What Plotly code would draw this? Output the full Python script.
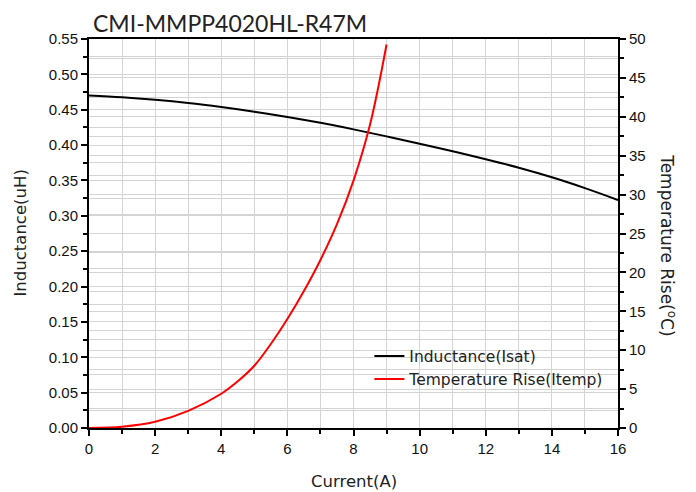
import plotly.graph_objects as go

current_L = [0, 1, 2, 3, 4, 5, 6, 7, 8, 9, 10, 11, 12, 13, 14, 15, 16]
inductance = [0.4700, 0.4675, 0.4640, 0.4595, 0.4538, 0.4472, 0.4398, 0.4315, 0.4222, 0.4123,
              0.4020, 0.3912, 0.3800, 0.3680, 0.3545, 0.3392, 0.3224]

current_T = [0, 1, 2, 3, 4, 4.5, 5, 5.5, 6, 6.5, 7, 7.5, 8, 8.5, 9]
temp_rise = [0, 0.17, 0.8, 2.2, 4.4, 6.0, 8.0, 10.8, 14.0, 17.6, 21.6, 26.2, 31.8, 39.0, 49.3]

x_ticks = [0, 2, 4, 6, 8, 10, 12, 14, 16]

title_font = "Lato, Noto Sans, sans-serif"
label_font = "DejaVu Sans, sans-serif"
tick_font = "Liberation Sans, Arial, sans-serif"
grid_col = "#d4d4d4"

fig = go.Figure()
fig.add_trace(go.Scatter(x=current_L, y=inductance, mode="lines", name="Inductance(Isat)",
                         line=dict(color="black", width=2, shape="spline", smoothing=1.0), yaxis="y"))
fig.add_trace(go.Scatter(x=current_T, y=temp_rise, mode="lines", name="Temperature Rise(Itemp)",
                         line=dict(color="red", width=2, shape="spline", smoothing=1.0), yaxis="y2"))

fig.update_layout(
    width=688, height=484,
    margin=dict(l=81, r=78, t=31, b=64),
    paper_bgcolor="white", plot_bgcolor="white",
    showlegend=True,
    legend=dict(x=0.53, y=0.228, xanchor="left", yanchor="top", bgcolor="rgba(0,0,0,0)",
                font=dict(family=label_font, size=15.5, color="#222"), tracegroupgap=0),
    xaxis=dict(range=[0, 16], tickvals=x_ticks, showline=True, linecolor="black", linewidth=2,
               mirror=True, ticks="outside", ticklen=6, tickwidth=1.5, tickcolor="black",
               showgrid=True, gridcolor=grid_col, gridwidth=1, zeroline=False, automargin=False,
               minor=dict(dtick=1, ticks="outside", ticklen=4, tickcolor="black", showgrid=True, gridcolor=grid_col),
               tickfont=dict(family=tick_font, size=15, color="#111")),
    yaxis=dict(range=[0, 0.55], dtick=0.05, tickformat=".2f", showline=True, linecolor="black", linewidth=2,
               ticks="outside", ticklen=6, tickwidth=1.5, tickcolor="black",
               showgrid=True, gridcolor=grid_col, gridwidth=1, zeroline=False, automargin=False,
               minor=dict(dtick=0.025, ticks="outside", ticklen=4, tickcolor="black", showgrid=True, gridcolor=grid_col),
               tickfont=dict(family=tick_font, size=15, color="#111")),
    yaxis2=dict(range=[0, 50], dtick=5, overlaying="y", side="right", showline=True, linecolor="black", linewidth=2,
                ticks="outside", ticklen=6, tickwidth=1.5, tickcolor="black",
                showgrid=True, gridcolor=grid_col, gridwidth=1, zeroline=False, automargin=False,
                minor=dict(dtick=2.5, ticks="outside", ticklen=4, tickcolor="black", showgrid=True, gridcolor=grid_col),
                tickfont=dict(family=tick_font, size=15, color="#111")),
    annotations=[
        dict(text="CMI-MMPP4020HL-R47M", xref="paper", yref="paper", x=0.003, y=1.0, xanchor="left", yanchor="bottom",
             showarrow=False, yshift=0, font=dict(family=title_font, size=23, color="#222")),
        dict(text="Current(A)", xref="paper", yref="paper", x=0.5, y=0, xanchor="center", yanchor="middle",
             yshift=-53, showarrow=False, font=dict(family=label_font, size=16.5, color="#222")),
        dict(text="Inductance(uH)", xref="paper", yref="paper", x=0, y=0.5, xanchor="center", yanchor="middle",
             xshift=-69, textangle=-90, showarrow=False, font=dict(family=label_font, size=16.5, color="#222")),
        dict(text="Temperature Rise(<sup>o</sup>C)", xref="paper", yref="paper", x=1.0, y=0.47, xanchor="center",
             yanchor="middle", xshift=50, textangle=90, showarrow=False,
             font=dict(family=label_font, size=17, color="#222")),
    ],
)

fig.write_html("out.html")
